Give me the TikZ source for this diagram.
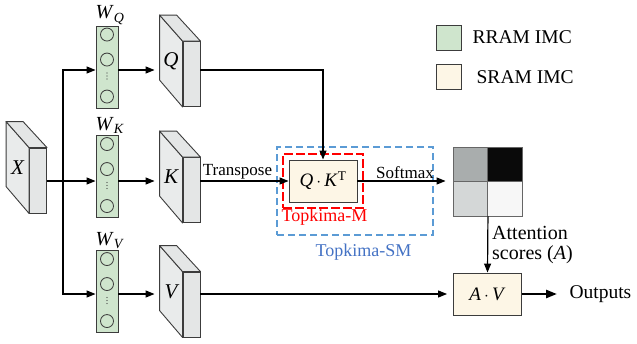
\documentclass[tikz,border=0pt]{standalone}
\usepackage{fontspec}
\setmainfont{Liberation Serif}
\usetikzlibrary{arrows.meta,positioning,calc,fit}
\definecolor{rram}{HTML}{CFE5CD}
\definecolor{sram}{HTML}{FDF6E6}
\definecolor{slabbg}{HTML}{E4E6E6}
\definecolor{slabsd}{HTML}{E9EBEB}
\definecolor{edge}{HTML}{3C3C3C}
\definecolor{smblue}{HTML}{5B9BD5}
\definecolor{smtext}{HTML}{4472C4}
\definecolor{mred}{HTML}{FF0000}
\definecolor{cA}{HTML}{A9ADAD}
\definecolor{cB}{HTML}{0A0A0A}
\definecolor{cC}{HTML}{D4D7D7}
\definecolor{cD}{HTML}{F7F7F7}
\newcommand{\fsz}[1]{\fontsize{#1}{#1}\selectfont}
\tikzset{
  slab/.style={draw=edge,fill=slabbg,line width=0.9pt,minimum width=17pt,
               minimum height=65pt,inner sep=0pt},
  wcol/.style={draw=edge,fill=rram,line width=0.9pt,minimum width=22pt,
               minimum height=82pt,inner sep=0pt},
  imc/.style={draw=edge,fill=sram,line width=0.9pt,inner sep=0pt},
  cell/.style={draw=gray!80!black,line width=0.9pt,minimum size=34.5pt,inner sep=0pt},
  flow/.style={-{Triangle[length=9pt,width=7pt]},line width=1.2pt},
  txt/.style={font=\fsz{17}},
  txtbig/.style={font=\fsz{19.5}},
}

\begin{document}
\begin{tikzpicture}[x=1pt,y=-1pt]
  \useasboundingbox (0,0) rectangle (637,343);
  % rows of the three branches
  \coordinate (rq) at (0,70);
  \coordinate (rk) at (0,181);
  \coordinate (rv) at (0,294);
  % input and projected slabs
  \foreach \nm/\px/\py in {X/38/180.5, Q/191.5/74, K/191.5/190, V/191.5/304.5}{
    \node[slab] (\nm) at (\px,\py) {};
    \draw[edge,fill=slabsd,line width=0.9pt,line join=round]
      (\nm.north west) -- ++(-23,-26) -- ++(0,65) -- (\nm.south west) -- cycle;
    \draw[edge,fill=slabbg,line width=0.9pt,line join=round]
      (\nm.north west) -- ++(-23,-26) -- ++(17,0) -- (\nm.north east) -- cycle;
    \node[font=\fsz{21}\itshape] at ($(\nm.west)+(-11.5,-13)$) {\nm};
  }
  % RRAM weight columns
  \foreach \nm/\py/\sb in {WQ/67/Q, WK/176.5/K, WV/291.5/V}{
    \node[wcol] (\nm) at (107,\py) {};
    \foreach \dy in {9,34,71}
      \draw[edge,line width=0.8pt] ($(\nm.north)+(0,\dy)$) circle[radius=6.5pt];
    \foreach \dy in {47.5,50.5,53.5}
      \fill[edge] ($(\nm.north)+(0,\dy)$) circle[radius=0.6pt];
    \node[font=\fsz{20},anchor=south,inner sep=1pt] at ([xshift=3pt]\nm.north)
      {\textit{W}\textsubscript{\textit{\sb}}};
  }
  % fan-out from X
  \coordinate (split) at (63,181);
  \draw[line width=1.2pt] (X.east |- rk) -- (split);
  \foreach \r/\w in {rq/WQ, rk/WK, rv/WV}
    \draw[flow] (split) |- (\w.west |- \r);
  \foreach \r/\w/\s in {rq/WQ/Q, rk/WK/K, rv/WV/V}
    \draw[flow] (\w.east |- \r) -- ([xshift=-28pt]\s.west |- \r);
  % Q K^T in SRAM
  \node[imc,minimum width=68pt,minimum height=42pt,font=\fsz{19}] (QK) at (323,181)
    {\textit{Q}\,$\cdot$\,\textit{K}\textsuperscript{T}};
  \node[draw=mred,line width=1.6pt,dash pattern=on 9pt off 3pt,fit=(QK),
        inner sep=5.5pt] (topM) {};
  \node[draw=smblue,line width=1.3pt,dash pattern=on 7pt off 4pt,
        minimum width=156pt,minimum height=88pt,inner sep=0pt] (topSM) at (355,191) {};
  \node[font=\fsz{18},text=mred,anchor=west,inner sep=0pt] (labM) at (281.5,217) {Topkima-M};
  \node[font=\fsz{18},text=smtext,inner sep=0pt] (labSM) at (363.5,252) {Topkima-SM};
  \draw[flow] (Q.east |- rq) -| (QK.north);
  \draw[flow] (K.east |- rk) -- node[above,txt,inner sep=1.5pt,pos=0.42] {Transpose} (QK.west);
  % attention matrix
  \foreach \nm/\px/\py/\shade in {a11/470.25/164.25/cA, a12/504.75/164.25/cB,
                                  a21/470.25/198.75/cC, a22/504.75/198.75/cD}
    \node[cell,fill=\shade] (\nm) at (\px,\py) {};
  \draw[flow,shorten >=7pt] (QK.east) -- node[above,txt,inner sep=1.5pt] {Softmax}
    (a11.west |- QK.east);
  % A V in SRAM
  \node[imc,minimum width=68pt,minimum height=42pt,font=\fsz{19}] (AV) at (487.5,294)
    {\textit{A}\,$\cdot$\,\textit{V}};
  \draw[flow] (a21.south east) -- (AV.north);
  \node[font=\fontsize{20}{20}\selectfont,anchor=west,align=left,inner sep=0pt]
    (att) at (492,245) {Attention\\scores (\textit{A})};
  \draw[flow,shorten >=6pt] (V.east |- rv) -- (AV.west);
  \node[txtbig,anchor=west] (out) at (566,294) {Outputs};
  \draw[-{Triangle[length=11pt,width=8pt]},line width=2.4pt,shorten >=9pt]
    (AV.east) -- (out.west);
  % legend
  \node[draw=edge,fill=rram,line width=0.9pt,minimum size=25pt,inner sep=0pt]
    (legR) at (448.5,37.5) {};
  \node[txtbig,right=11pt of legR,inner sep=0pt] (legRt) {RRAM IMC};
  \node[draw=edge,fill=sram,line width=0.9pt,minimum size=25pt,inner sep=0pt]
    (legS) at (448.5,77) {};
  \node[txtbig,right=15pt of legS,inner sep=0pt] (legSt) {SRAM IMC};
\end{tikzpicture}
\end{document}
